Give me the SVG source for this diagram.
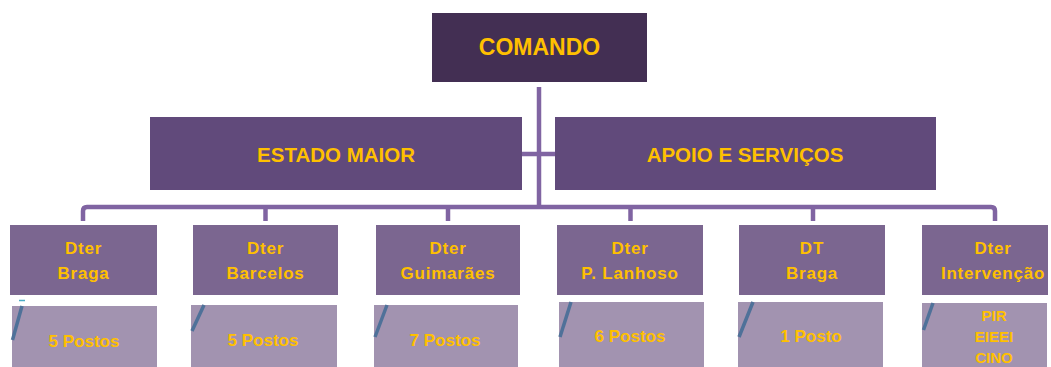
<svg xmlns="http://www.w3.org/2000/svg" width="1051" height="367" viewBox="0 0 1051 367">
<style>
.t{font-family:"Liberation Sans",Arial,sans-serif;font-weight:bold;fill:#FFC000;text-anchor:middle}
.top{fill:#432F53}
.mid{fill:#614A7B}
.dt{fill:#7B6690}
.low{fill:#A293B0}
.con{stroke:#8064A2;fill:none;stroke-width:4.5}
.diag{stroke:#4F7199;stroke-width:3.5}
.l{font-size:17px;letter-spacing:0.8px}
.p{font-size:17px}
</style>
<rect width="1051" height="367" fill="#ffffff"/>
<g id="connectors">
<line class="con" x1="539" y1="87" x2="539" y2="207" stroke-width="5"/>
<line class="con" x1="522" y1="154" x2="555" y2="154"/>
<path class="con" d="M83,221 V211 Q83,207 87,207 H991 Q995,207 995,211 V221"/>
<line class="con" x1="265.5" y1="207" x2="265.5" y2="221"/>
<line class="con" x1="448" y1="207" x2="448" y2="221"/>
<line class="con" x1="630.5" y1="207" x2="630.5" y2="221"/>
<line class="con" x1="813" y1="207" x2="813" y2="221"/>
</g>
<g id="comando">
<rect class="top" x="432" y="13" width="215" height="69"/>
<text class="t" x="539.5" y="55" font-size="23">COMANDO</text>
</g>
<g id="estado-maior">
<rect class="mid" x="150" y="117" width="372" height="73"/>
<text class="t" x="336" y="162" font-size="20.5">ESTADO MAIOR</text>
</g>
<g id="apoio-servicos">
<rect class="mid" x="555" y="117" width="381" height="73"/>
<text class="t" x="745" y="162" font-size="20.5">APOIO E SERVIÇOS</text>
</g>
<g id="dter-braga">
<rect class="dt" x="10" y="225" width="147" height="70"/>
<text class="t l" x="83.5" y="254">Dter</text>
<text class="t l" x="83.5" y="279">Braga</text>
</g>
<g id="dter-barcelos">
<rect class="dt" x="193" y="225" width="145" height="70"/>
<text class="t l" x="265.5" y="254">Dter</text>
<text class="t l" x="265.5" y="279">Barcelos</text>
</g>
<g id="dter-guimaraes">
<rect class="dt" x="376" y="225" width="144" height="70"/>
<text class="t l" x="448" y="254">Dter</text>
<text class="t l" x="448" y="279">Guimarães</text>
</g>
<g id="dter-lanhoso">
<rect class="dt" x="557" y="225" width="146" height="70"/>
<text class="t l" x="630" y="254">Dter</text>
<text class="t l" x="630" y="279">P. Lanhoso</text>
</g>
<g id="dt-braga">
<rect class="dt" x="739" y="225" width="146" height="70"/>
<text class="t l" x="812" y="254">DT</text>
<text class="t l" x="812" y="279">Braga</text>
</g>
<g id="dter-intervencao">
<rect class="dt" x="922" y="225" width="126" height="70"/>
<text class="t l" x="993" y="254">Dter</text>
<text class="t l" x="993" y="279">Intervenção</text>
</g>
<line x1="19" y1="300.5" x2="25" y2="300.5" stroke="#4BACC6" stroke-width="1.5"/>
<g id="postos-braga">
<rect class="low" x="12" y="306" width="145" height="61"/>
<line class="diag" x1="22" y1="306" x2="12.5" y2="340"/>
<text class="t p" x="84" y="347">5 Postos</text>
</g>
<g id="postos-barcelos">
<rect class="low" x="191" y="305" width="146" height="62"/>
<line class="diag" x1="204" y1="305" x2="192" y2="331"/>
<text class="t p" x="263" y="346">5 Postos</text>
</g>
<g id="postos-guimaraes">
<rect class="low" x="374" y="305" width="144" height="62"/>
<line class="diag" x1="387" y1="305" x2="375" y2="337"/>
<text class="t p" x="445" y="346">7 Postos</text>
</g>
<g id="postos-lanhoso">
<rect class="low" x="559" y="302" width="145" height="65"/>
<line class="diag" x1="571" y1="302" x2="560" y2="337"/>
<text class="t p" x="630" y="342">6 Postos</text>
</g>
<g id="postos-dt-braga">
<rect class="low" x="738" y="302" width="145" height="65"/>
<line class="diag" x1="753" y1="302" x2="739" y2="337"/>
<text class="t p" x="811" y="342">1 Posto</text>
</g>
<g id="intervencao-units">
<rect class="low" x="922" y="303" width="125" height="64"/>
<line class="diag" x1="933" y1="303" x2="923.5" y2="330"/>
<text class="t" x="994" y="321" font-size="15">PIR</text>
<text class="t" x="994" y="342" font-size="15">EIEEI</text>
<text class="t" x="994" y="363" font-size="15">CINO</text>
</g>
</svg>
